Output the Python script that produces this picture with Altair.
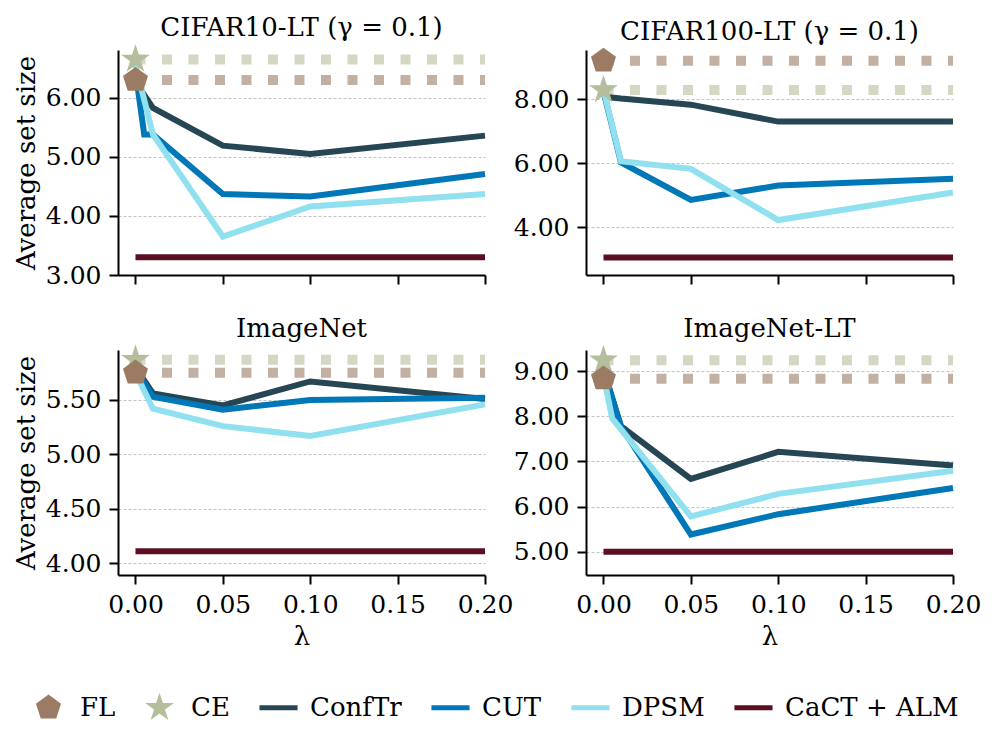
import altair as alt
import pandas as pd

# ---------------- data ----------------
METHODS = ["FL", "CE", "ConfTr", "CUT", "DPSM", "CaCT + ALM"]
COLORS = ["#9b7b64", "#b4bd9c", "#264653", "#0077b6", "#90e0ef", "#5c0f22"]
DOTTED_COLORS = {"FL": "#c4b0a2", "CE": "#d3d8c4"}

LAM = [0.0, 0.01, 0.05, 0.1, 0.2]
LAM_CUT_C10 = [0.0, 0.005, 0.01, 0.05, 0.1, 0.2]
LAM_DPSM_INLT = [0.0, 0.005, 0.05, 0.1, 0.2]
LAM_BASE = [0.0, 0.2]
X_TICKS = [0.0, 0.05, 0.1, 0.15, 0.2]

# CIFAR10-LT (gamma = 0.1)
C10_CONFTR = [6.27, 5.83, 5.19, 5.05, 5.36]
C10_CUT = [6.45, 5.38, 5.38, 4.37, 4.33, 4.71]
C10_DPSM = [6.55, 5.38, 3.65, 4.16, 4.37]
C10_CACT = [3.30, 3.30, 3.30, 3.30, 3.30]
C10_FL = 6.30
C10_CE = 6.65

# CIFAR100-LT (gamma = 0.1)
C100_CONFTR = [8.08, 8.02, 7.83, 7.30, 7.30]
C100_CUT = [8.25, 6.02, 4.85, 5.30, 5.51]
C100_DPSM = [8.30, 6.06, 5.82, 4.22, 5.08]
C100_CACT = [3.05, 3.05, 3.05, 3.05, 3.05]
C100_FL = 9.20
C100_CE = 8.29

# ImageNet
IN_CONFTR = [5.80, 5.56, 5.45, 5.67, 5.51]
IN_CUT = [5.78, 5.53, 5.41, 5.50, 5.52]
IN_DPSM = [5.75, 5.42, 5.26, 5.17, 5.46]
IN_CACT = [4.11, 4.11, 4.11, 4.11, 4.11]
IN_FL = 5.75
IN_CE = 5.87

# ImageNet-LT
INLT_CONFTR = [9.00, 7.78, 6.61, 7.21, 6.91]
INLT_CUT = [9.05, 7.77, 5.38, 5.83, 6.41]
INLT_DPSM = [8.90, 7.95, 5.78, 6.28, 6.79]
INLT_CACT = [5.00, 5.00, 5.00, 5.00, 5.00]
INLT_FL = 8.83
INLT_CE = 9.24

# ---------------- styling ----------------
FONT = "DejaVu Serif"
PENTAGON = "M0,-1L0.951,-0.309L0.588,0.809L-0.588,0.809L-0.951,-0.309Z"
STAR = ("M0,-1.15L0.258,-0.355L1.094,-0.355L0.418,0.136L0.676,0.930"
        "L0,0.439L-0.676,0.930L-0.418,0.136L-1.094,-0.355L-0.258,-0.355Z")
BAR = "M-1.45,-0.19L1.45,-0.19L1.45,0.19L-1.45,0.19Z"
SHAPES = [PENTAGON, STAR, BAR, BAR, BAR, BAR]
MARKER_SIZE = 691
X_DOMAIN = [-0.01, 0.2]
COLOR_OF = dict(zip(METHODS, COLORS))

color_scale = alt.Scale(domain=METHODS, range=COLORS)
shape_scale = alt.Scale(domain=METHODS, range=SHAPES)

legend = alt.Legend(
    title=None, orient="none", legendX=-83, legendY=644, direction="horizontal",
    columns=6, labelFont=FONT, labelFontSize=26, labelColor="black",
    symbolSize=MARKER_SIZE, symbolStrokeWidth=0, labelOffset=18,
    columnPadding=29, labelLimit=0, symbolOpacity=1,
)


def panel(title, series, fl, ce, ydom, yticks, top_row, left_col):
    rows = []
    for method, xs, ys in series:
        for x, y in zip(xs, ys):
            rows.append({"method": method, "lam": x, "val": y, "col": COLOR_OF[method]})
    lines_df = pd.DataFrame(rows)
    rules_df = pd.DataFrame({
        "method": ["CE", "FL"], "val": [ce, fl],
        "x0": [LAM_BASE[0]] * 2, "x1": [LAM_BASE[1]] * 2,
        "col": [DOTTED_COLORS["CE"], DOTTED_COLORS["FL"]],
    })
    marks_df = pd.DataFrame({"method": ["CE", "FL"], "val": [ce, fl],
                             "lam": [LAM_BASE[0]] * 2})

    xaxis = alt.Axis(
        values=X_TICKS, format=".2f", labels=not top_row, grid=False,
        title=None if top_row else "λ", labelFlush=False, labelOverlap=False,
    )
    yaxis = alt.Axis(
        values=yticks, format=".2f", grid=True,
        title="Average set size" if left_col else None,
        labelFlush=False, labelOverlap=False,
    )
    xs = alt.Scale(domain=X_DOMAIN, nice=False, zero=False)
    ys = alt.Scale(domain=ydom, nice=False, zero=False)

    rules = alt.Chart(rules_df).mark_rule(
        strokeDash=[10, 16.5], strokeWidth=10, strokeCap="butt"
    ).encode(
        x=alt.X("x0:Q", scale=xs, axis=xaxis),
        x2="x1:Q",
        y=alt.Y("val:Q", scale=ys, axis=yaxis),
        color=alt.Color("col:N", scale=None),
    )
    lines = alt.Chart(lines_df).mark_line(
        strokeWidth=6, strokeCap="butt", strokeJoin="miter"
    ).encode(
        x=alt.X("lam:Q", scale=xs, axis=xaxis),
        y=alt.Y("val:Q", scale=ys, axis=yaxis),
        color=alt.Color("col:N", scale=None),
        detail="method:N",
    )
    markers = alt.Chart(marks_df).mark_point(
        filled=True, opacity=1, size=MARKER_SIZE, strokeWidth=0
    ).encode(
        x=alt.X("lam:Q", scale=xs, axis=xaxis),
        y=alt.Y("val:Q", scale=ys, axis=yaxis),
        color=alt.Color("method:N", scale=color_scale, legend=legend),
        shape=alt.Shape("method:N", scale=shape_scale, legend=legend),
    )
    return alt.layer(rules, lines, markers).properties(
        width=367, height=225,
        title=alt.TitleParams(title, font=FONT, fontSize=26, fontWeight="normal",
                              color="black", offset=3),
    )


p1 = panel("CIFAR10-LT (γ = 0.1)",
           [("ConfTr", LAM, C10_CONFTR), ("CUT", LAM_CUT_C10, C10_CUT),
            ("DPSM", LAM, C10_DPSM), ("CaCT + ALM", LAM, C10_CACT)],
           C10_FL, C10_CE, [3.0, 6.81], [3, 4, 5, 6], True, True)
p2 = panel("CIFAR100-LT (γ = 0.1)",
           [("ConfTr", LAM, C100_CONFTR), ("CUT", LAM, C100_CUT),
            ("DPSM", LAM, C100_DPSM), ("CaCT + ALM", LAM, C100_CACT)],
           C100_FL, C100_CE, [2.5, 9.54], [4, 6, 8], True, False)
p3 = panel("ImageNet",
           [("ConfTr", LAM, IN_CONFTR), ("CUT", LAM, IN_CUT),
            ("DPSM", LAM, IN_DPSM), ("CaCT + ALM", LAM, IN_CACT)],
           IN_FL, IN_CE, [3.893, 5.959], [4.0, 4.5, 5.0, 5.5], False, True)
p4 = panel("ImageNet-LT",
           [("ConfTr", LAM, INLT_CONFTR), ("CUT", LAM, INLT_CUT),
            ("DPSM", LAM_DPSM_INLT, INLT_DPSM), ("CaCT + ALM", LAM, INLT_CACT)],
           INLT_FL, INLT_CE, [4.484, 9.465], [5, 6, 7, 8, 9], False, False)

chart = alt.concat(
    p1, p2, p3, p4, columns=2,
    spacing=alt.RowColnumber(row=75, column=101), bounds="flush",
    padding={"left": 5, "top": 7, "right": 5, "bottom": 5},
).configure(background="white").configure_view(stroke=None).configure_axis(
    domainColor="black", domainWidth=2, tickColor="black", tickWidth=2, tickSize=9,
    labelFont=FONT, labelFontSize=25, labelColor="black", labelPadding=8,
    titleFont=FONT, titleFontSize=26, titleFontWeight="normal", titleColor="black",
    titlePadding=6, gridColor="#c4c4c4", gridDash=[3, 2], gridWidth=1,
)

chart.save("out.html", embed_options={"renderer": "svg", "actions": False})
